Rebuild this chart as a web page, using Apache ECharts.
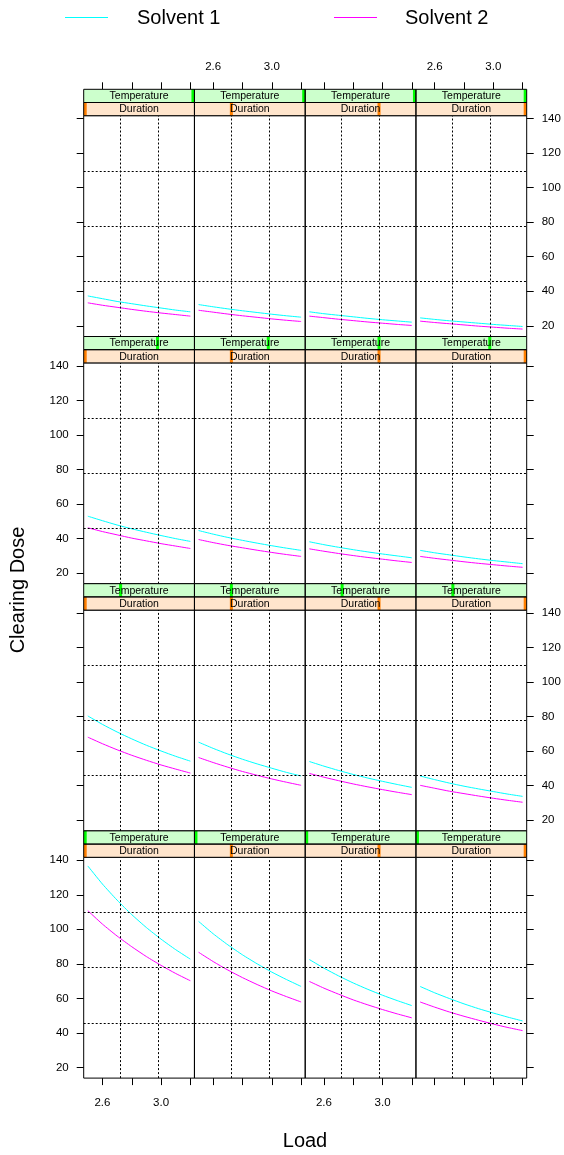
<!DOCTYPE html>
<html>
<head>
<meta charset="utf-8">
<script src="https://cdn.jsdelivr.net/npm/echarts@6/dist/echarts.min.js"></script>
<style>
html,body{margin:0;padding:0;background:#fff;}
#chart{width:564px;height:1155px;}
</style>
</head>
<body>
<div id="chart"></div>
<script>
// ---- data ----
const loads = [2.5, 2.6, 2.7, 2.8, 2.9, 3.0, 3.1, 3.2];
const seriesNames = ['Solvent 1', 'Solvent 2'];
const xTicks = [2.6, 2.8, 3.0, 3.2];
const xTickLabels = [2.6, 3.0];
const yTicks = [20, 40, 60, 80, 100, 120, 140];
const stripNames = ['Temperature', 'Duration'];

// Clearing dose, per temperature level (1 = lowest), each row = duration level 1..4
const solvent1_temp1 = [
  [136.7,126.2,116.9,108.5,101.0,94.3,88.2,82.7],
  [104.6,97.4,91.0,85.2,80.0,75.2,70.9,66.9],
  [82.5,77.5,73.0,68.9,65.2,61.8,58.7,55.8],
  [66.9,63.2,59.9,56.8,54.0,51.5,49.1,46.9]
];
const solvent2_temp1 = [
  [110.8,103.0,96.1,89.9,84.2,79.1,74.4,70.2],
  [86.7,81.3,76.4,72.0,68.0,64.3,61.0,57.9],
  [69.8,65.9,62.4,59.1,56.2,53.5,51.0,48.7],
  [57.9,54.9,52.1,49.6,47.3,45.1,43.1,41.3]
];
const solvent1_temp2 = [
  [80.4,75.5,71.1,67.1,63.4,60.1,57.0,54.2],
  [65.2,61.6,58.3,55.3,52.6,50.1,47.7,45.6],
  [54.0,51.3,48.8,46.5,44.4,42.5,40.7,39.0],
  [45.6,43.5,41.5,39.7,38.1,36.6,35.1,33.8]
];
const solvent2_temp2 = [
  [68.1,64.3,60.8,57.6,54.7,52.0,49.6,47.3],
  [56.3,53.4,50.7,48.2,46.0,43.9,42.0,40.2],
  [47.1,44.9,42.9,41.0,39.3,37.7,36.2,34.8],
  [40.2,38.5,36.8,35.4,34.0,32.7,31.5,30.4]
];
const solvent1_temp3 = [
  [52.9,50.3,47.8,45.6,43.6,41.7,39.9,38.3],
  [44.6,42.5,40.6,38.9,37.3,35.8,34.4,33.1],
  [38.1,36.4,34.9,33.5,32.2,31.0,29.9,28.8],
  [33.1,31.7,30.5,29.3,28.2,27.2,26.3,25.4]
];
const solvent2_temp3 = [
  [46.2,44.0,42.1,40.2,38.6,37.0,35.6,34.2],
  [39.4,37.6,36.0,34.6,33.2,31.9,30.7,29.6],
  [34.0,32.6,31.3,30.1,29.0,28.0,27.0,26.1],
  [29.6,28.5,27.5,26.5,25.6,24.8,24.0,23.3]
];
const solvent1_temp4 = [
  [37.3,35.7,34.1,32.8,31.5,30.3,29.1,28.1],
  [32.3,31.0,29.8,28.7,27.7,26.7,25.8,25.0],
  [28.1,27.0,26.1,25.2,24.3,23.5,22.8,22.1],
  [24.6,23.7,22.9,22.2,21.5,20.8,20.2,19.6]
];
const solvent2_temp4 = [
  [33.3,31.9,30.7,29.5,28.4,27.4,26.5,25.6],
  [29.0,27.9,26.8,25.8,24.9,24.0,23.2,22.5],
  [25.6,24.7,23.8,23.0,22.2,21.5,20.8,20.2],
  [22.7,21.9,21.2,20.5,19.8,19.2,18.6,18.1]
];
const solvent1 = [solvent1_temp1, solvent1_temp2, solvent1_temp3, solvent1_temp4];
const solvent2 = [solvent2_temp1, solvent2_temp2, solvent2_temp3, solvent2_temp4];

// ---- layout / style ----
const FONT = 'Liberation Sans, Arial, Helvetica, sans-serif';
const colors = ['#00FFFF', '#FF00FF'];
const X_MIN = 2.472, X_MAX = 3.228;
const Y_MIN = 13.8, Y_MAX = 141.7;
const xGrid = [2.724, 2.976];
const yGrid = [45.8, 77.75, 109.7];
const PL = 83.7, PW = 110.75;          // panel left, panel width
const ST = 89.3, RP = 247.2;           // first strip top, row pitch
const SH = 13.2;                       // one strip height
const PH = RP - 2 * SH;                // panel height
const nR = 4, nC = 4;

const grids = [], xAxes = [], yAxes = [], series = [], graphics = [];

for (let r = 0; r < nR; r++) {
  const tempLevel = nR - 1 - r; // bottom row = level 0
  for (let c = 0; c < nC; c++) {
    const gi = r * nC + c;
    const left = PL + c * PW;
    const stripTop = ST + r * RP;
    const top = stripTop + 2 * SH;
    grids.push({left: left, top: top, width: PW, height: PH, show: true,
      borderColor: '#000', borderWidth: 1, backgroundColor: 'transparent', containLabel: false});

    const isTop = r === 0, isBottom = r === nR - 1;
    const showX = isTop || isBottom;
    const xLabelOn = (isBottom && c % 2 === 0) || (isTop && c % 2 === 1);
    xAxes.push({
      gridIndex: gi, type: 'value', min: X_MIN, max: X_MAX,
      position: isTop ? 'top' : 'bottom', offset: isTop ? 2 * SH : 0,
      show: showX,
      axisLine: {show: false},
      splitLine: {show: false},
      axisTick: {show: true, customValues: xTicks, length: 7, lineStyle: {color: '#000', width: 1}},
      axisLabel: {show: xLabelOn, customValues: xTickLabels, margin: isTop ? 16 : 18.5,
        formatter: v => Number(v).toFixed(1), color: '#000', fontSize: 11.5, fontFamily: FONT}
    });
    const isLeft = c === 0, isRight = c === nC - 1;
    const yLabelOn = (isLeft && r % 2 === 1) || (isRight && r % 2 === 0);
    yAxes.push({
      gridIndex: gi, type: 'value', min: Y_MIN, max: Y_MAX,
      position: isRight ? 'right' : 'left',
      show: isLeft || isRight,
      axisLine: {show: false},
      splitLine: {show: false},
      axisTick: {show: true, customValues: yTicks, length: 7, lineStyle: {color: '#000', width: 1}},
      axisLabel: {show: yLabelOn, customValues: yTicks, margin: 15,
        color: '#000', fontSize: 11.5, fontFamily: FONT}
    });

    // reference grid (dotted)
    series.push({
      type: 'line', xAxisIndex: gi, yAxisIndex: gi, data: [], silent: true, z: 1,
      markLine: {
        silent: true, symbol: 'none', animation: false,
        label: {show: false},
        lineStyle: {color: '#000', width: 1, type: [2, 2]},
        emphasis: {disabled: true},
        data: xGrid.map(v => ({xAxis: v})).concat(yGrid.map(v => ({yAxis: v})))
      }
    });
    [solvent1, solvent2].forEach((src, k) => {
      const vals = src[tempLevel][c];
      series.push({
        name: seriesNames[k], type: 'line', xAxisIndex: gi, yAxisIndex: gi,
        data: loads.map((x, i) => [x, vals[i]]),
        symbol: 'none', smooth: 0.2, z: 3,
        lineStyle: {color: colors[k], width: 1},
        itemStyle: {color: colors[k]},
        emphasis: {disabled: true},
        animation: false
      });
    });

    // strips: Temperature (top, green), Duration (bottom, orange)
    const stripDefs = [
      {name: stripNames[0], y: stripTop, bg: '#CCFFCC', mark: '#00FF00', level: tempLevel},
      {name: stripNames[1], y: stripTop + SH, bg: '#FFE5CC', mark: '#FF7F00', level: c}
    ];
    stripDefs.forEach(s => {
      graphics.push({type: 'rect', shape: {x: left, y: s.y, width: PW, height: SH},
        style: {fill: s.bg, stroke: null}, z: 10, silent: true});
      let mx = left + (s.level / 3) * PW - 1.5;
      mx = Math.max(left, Math.min(left + PW - 3, mx));
      graphics.push({type: 'rect', shape: {x: mx, y: s.y, width: 3, height: SH},
        style: {fill: s.mark}, z: 11, silent: true});
      graphics.push({type: 'text', x: left + PW / 2, y: s.y + SH / 2 + 0.5,
        style: {text: s.name, fill: '#000', font: '10.5px ' + FONT, align: 'center', verticalAlign: 'middle'},
        z: 12, silent: true});
      graphics.push({type: 'rect', shape: {x: left, y: s.y, width: PW, height: SH},
        style: {fill: null, stroke: '#000', lineWidth: 1}, z: 13, silent: true});
    });
  }
}

// axis titles
graphics.push({type: 'text', x: 18, y: 590, rotation: Math.PI / 2,
  style: {text: 'Clearing Dose', fill: '#000', font: '20px ' + FONT, align: 'center', verticalAlign: 'middle'}, silent: true});
graphics.push({type: 'text', x: 305, y: 1141,
  style: {text: 'Load', fill: '#000', font: '20px ' + FONT, align: 'center', verticalAlign: 'middle'}, silent: true});

// key (legend) at top
const keyItems = [{x: 65, tx: 137}, {x: 334, tx: 405}];
keyItems.forEach((k, i) => {
  graphics.push({type: 'rect', shape: {x: k.x, y: 17, width: 43, height: 1},
    style: {fill: colors[i], stroke: null}, z: 100, silent: true});
  graphics.push({type: 'text', x: k.tx, y: 18,
    style: {text: seriesNames[i], fill: '#000', font: '20px ' + FONT, align: 'left', verticalAlign: 'middle'}, z: 100, silent: true});
});

const chart = echarts.init(document.getElementById('chart'), null, {renderer: 'canvas'});
chart.setOption({
  backgroundColor: '#fff',
  animation: false,
  grid: grids,
  xAxis: xAxes,
  yAxis: yAxes,
  series: series,
  graphic: {elements: graphics}
});
</script>
</body>
</html>
